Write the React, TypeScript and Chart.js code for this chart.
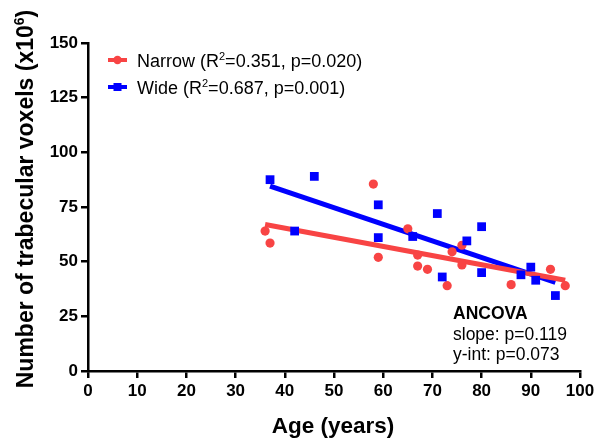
import React, { useEffect, useRef } from "react";
import { Chart, registerables } from "chart.js";

Chart.register(...registerables);

// ---- Data ----
const narrowAge = [36, 37, 58, 59, 65, 67, 67, 69, 73, 74, 76, 76, 86, 94, 97];
const narrowVoxels = [64, 58.5, 85.5, 52, 65, 53, 48, 46.5, 39, 54.5, 57.5, 48.5, 39.5, 46.5, 39];
const wideAge = [37, 42, 46, 59, 59, 66, 71, 72, 77, 80, 80, 88, 90, 91, 95];
const wideVoxels = [87.5, 64, 89, 76, 61, 61.5, 72, 43, 59.5, 66, 45, 44, 47.5, 41.5, 34.5];
const narrowFitAge = [36, 97];
const narrowFitVoxels = [67, 41.5];
const wideFitAge = [37, 95];
const wideFitVoxels = [84.5, 40.5];
const xTickValues = [0, 10, 20, 30, 40, 50, 60, 70, 80, 90, 100];
const yTickValues = [0, 25, 50, 75, 100, 125, 150];

const legendNarrow = ["Narrow (R", "2", "=0.351, p=0.020)"];
const legendWide = ["Wide (R", "2", "=0.687, p=0.001)"];
const ancovaLines = ["ANCOVA", "slope: p=0.119", "y-int: p=0.073"];
const yTitle = ["Number of trabecular voxels (x10", "6", ")"];
const xTitle = "Age (years)";

const RED = "rgb(248,68,68)";
const BLUE = "#0000FF";
const FONT = '"Liberation Sans", Arial, Helvetica, sans-serif';

const zip = (xs: number[], ys: number[]) => xs.map((x, i) => ({ x, y: ys[i] }));

function drawSup(ctx: CanvasRenderingContext2D, parts: string[], x: number, y: number, size: number, weight: string) {
  ctx.font = `${weight} ${size}px ${FONT}`;
  ctx.fillText(parts[0], x, y);
  let cx = x + ctx.measureText(parts[0]).width;
  const small = Math.round(size * 0.62);
  ctx.font = `${weight} ${small}px ${FONT}`;
  ctx.fillText(parts[1], cx, y - size * 0.38);
  cx += ctx.measureText(parts[1]).width;
  ctx.font = `${weight} ${size}px ${FONT}`;
  ctx.fillText(parts[2], cx, y);
}

function supWidth(ctx: CanvasRenderingContext2D, parts: string[], size: number, weight: string) {
  ctx.font = `${weight} ${size}px ${FONT}`;
  let w = ctx.measureText(parts[0]).width + ctx.measureText(parts[2]).width;
  ctx.font = `${weight} ${Math.round(size * 0.62)}px ${FONT}`;
  w += ctx.measureText(parts[1]).width;
  return w;
}

const annotations = {
  id: "annotations",
  afterDraw(chart: any) {
    const ctx: CanvasRenderingContext2D = chart.ctx;
    const area = chart.chartArea;
    ctx.save();
    ctx.fillStyle = "#000";
    ctx.textBaseline = "alphabetic";
    ctx.textAlign = "left";

    // Legend
    const rows = [
      { parts: legendNarrow, color: RED, shape: "circle", y: 60 },
      { parts: legendWide, color: BLUE, shape: "square", y: 87 },
    ];
    rows.forEach((r) => {
      ctx.strokeStyle = r.color;
      ctx.lineWidth = 4;
      ctx.beginPath();
      ctx.moveTo(108, r.y);
      ctx.lineTo(127, r.y);
      ctx.stroke();
      ctx.fillStyle = r.color;
      if (r.shape === "circle") {
        ctx.beginPath();
        ctx.arc(117.5, r.y, 4.2, 0, Math.PI * 2);
        ctx.fill();
      } else {
        ctx.fillRect(113.5, r.y - 4, 8, 8);
      }
      ctx.fillStyle = "#000";
      drawSup(ctx, r.parts, 137, r.y + 6.5, 18, "normal");
    });

    // ANCOVA
    ctx.font = `bold 17.5px ${FONT}`;
    ctx.fillText(ancovaLines[0], 453, 319);
    ctx.font = `normal 17.5px ${FONT}`;
    ctx.fillText(ancovaLines[1], 453, 340);
    ctx.fillText(ancovaLines[2], 453, 360);

    // X title
    ctx.font = `bold 22.5px ${FONT}`;
    ctx.textAlign = "center";
    ctx.fillText(xTitle, (area.left + area.right) / 2 - 1, 433);

    // Y title
    ctx.textAlign = "left";
    ctx.translate(33, 199);
    ctx.rotate(-Math.PI / 2);
    const w = supWidth(ctx, yTitle, 23, "bold");
    drawSup(ctx, yTitle, -w / 2, 0, 23, "bold");
    ctx.restore();
  },
};

export default function App() {
  const ref = useRef<HTMLCanvasElement | null>(null);
  useEffect(() => {
    if (!ref.current) return;
    const chart = new Chart(ref.current, {
      type: "scatter",
      data: {
        datasets: [
          {
            type: "line",
            label: "Wide fit",
            data: zip(wideFitAge, wideFitVoxels),
            borderColor: BLUE,
            borderWidth: 5,
            pointRadius: 0,
            showLine: true,
            fill: false,
            order: 4,
          } as any,
          {
            type: "line",
            label: "Narrow fit",
            data: zip(narrowFitAge, narrowFitVoxels),
            borderColor: RED,
            borderWidth: 5,
            pointRadius: 0,
            showLine: true,
            fill: false,
            order: 3,
          } as any,
          {
            label: "Narrow",
            data: zip(narrowAge, narrowVoxels),
            backgroundColor: RED,
            borderWidth: 0,
            pointStyle: "circle",
            pointRadius: 4.6,
            order: 2,
          },
          {
            label: "Wide",
            data: zip(wideAge, wideVoxels),
            backgroundColor: BLUE,
            borderWidth: 0,
            pointStyle: "rect",
            pointRadius: 6.2,
            order: 1,
          },
        ],
      },
      options: {
        animation: false,
        responsive: false,
        devicePixelRatio: 1,
        layout: { padding: { left: 0, top: 43, right: 19, bottom: 0 } },
        plugins: { legend: { display: false }, tooltip: { enabled: false } },
        scales: {
          x: {
            type: "linear",
            min: 0,
            max: 100,
            afterBuildTicks: (s: any) => {
              s.ticks = xTickValues.map((v) => ({ value: v }));
            },
            afterFit: (s: any) => {
              s.height = 71;
            },
            ticks: {
              color: "#000",
              font: { family: FONT, size: 17, weight: "bold" },
              padding: 3,
              maxRotation: 0,
              autoSkip: false,
            },
            grid: {
              drawOnChartArea: false,
              drawTicks: true,
              tickLength: 7,
              color: "#000",
              lineWidth: 2.5,
            },
            border: { display: true, color: "#000", width: 2.5 },
          },
          y: {
            type: "linear",
            min: 0,
            max: 150,
            afterBuildTicks: (s: any) => {
              s.ticks = yTickValues.map((v) => ({ value: v }));
            },
            afterFit: (s: any) => {
              s.width = 88;
            },
            ticks: {
              color: "#000",
              font: { family: FONT, size: 17, weight: "bold" },
              padding: 3,
              autoSkip: false,
            },
            grid: {
              drawOnChartArea: false,
              drawTicks: true,
              tickLength: 7,
              color: "#000",
              lineWidth: 2.5,
            },
            border: { display: true, color: "#000", width: 2.5 },
          },
        },
      },
      plugins: [annotations],
    });
    return () => chart.destroy();
  }, []);
  return (
    <div style={{ position: "fixed", left: 0, top: 0, width: 599, height: 442, background: "#fff" }}>
      <canvas ref={ref} width={599} height={442} />
    </div>
  );
}
